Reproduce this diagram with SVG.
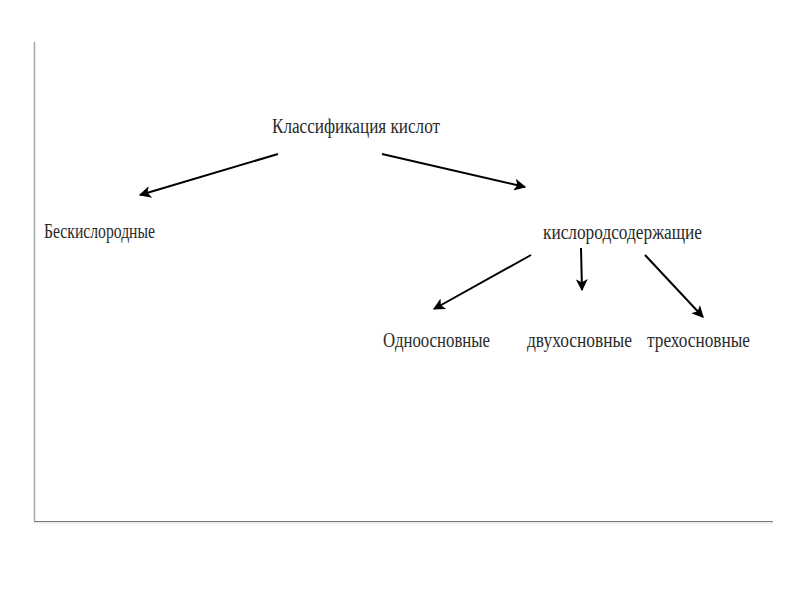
<svg xmlns="http://www.w3.org/2000/svg" width="800" height="600" viewBox="0 0 800 600">
<defs>
<marker id="ah" viewBox="0 0 10 10" refX="9" refY="5" markerWidth="6" markerHeight="6" markerUnits="strokeWidth" orient="auto">
<path d="M0,0 L10,5 L0,10 L2.5,5 Z" fill="#000"/>
</marker>
<style>
.t{font-family:"Liberation Serif","DejaVu Serif",serif;font-size:20px;fill:#2a2a2a}
.c{stroke:#000;stroke-width:2;fill:none;marker-end:url(#ah)}
</style>
</defs>
<rect width="800" height="600" fill="#fff"/>
<g id="frame">
<line x1="34.5" y1="42" x2="34.5" y2="521" stroke="#a8a8a8" stroke-width="1.5"/>
<line x1="34" y1="521.5" x2="773" y2="521.5" stroke="#777" stroke-width="1.2"/>
<line x1="34" y1="523" x2="773" y2="523" stroke="#ddd" stroke-width="1"/>
</g>
<g id="root"><text class="t" x="272" y="133" textLength="168" lengthAdjust="spacingAndGlyphs">Классификация кислот</text></g>
<g id="oxygenfree"><text class="t" x="44" y="238" textLength="111" lengthAdjust="spacingAndGlyphs">Бескислородные</text></g>
<g id="oxygen"><text class="t" x="543" y="239" textLength="159" lengthAdjust="spacingAndGlyphs">кислородсодержащие</text></g>
<g id="mono"><text class="t" x="383" y="347" textLength="107" lengthAdjust="spacingAndGlyphs">Одноосновные</text></g>
<g id="di"><text class="t" x="527" y="347" textLength="105" lengthAdjust="spacingAndGlyphs">двухосновные</text></g>
<g id="tri"><text class="t" x="647" y="347" textLength="103" lengthAdjust="spacingAndGlyphs">трехосновные</text></g>
<g id="connectors">
<line class="c" x1="278" y1="154" x2="140" y2="195"/>
<line class="c" x1="382" y1="154" x2="525" y2="187"/>
<line class="c" x1="531" y1="255" x2="434" y2="309"/>
<line class="c" x1="581" y1="248" x2="582" y2="290"/>
<line class="c" x1="645" y1="255" x2="703" y2="317"/>
</g>
</svg>
